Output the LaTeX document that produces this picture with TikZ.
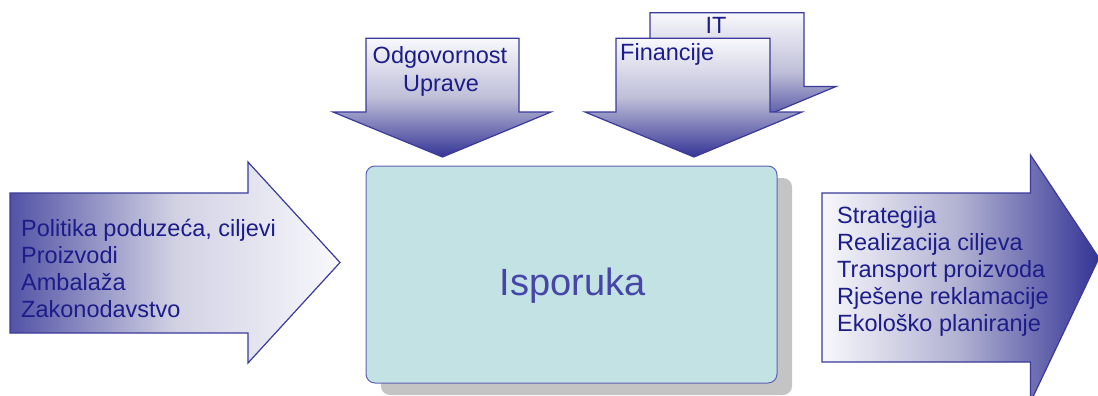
\documentclass[tikz,border=0pt]{standalone}
\usepackage{fontspec}
\setmainfont{Liberation Sans}
\definecolor{edgeblue}{RGB}{58,58,154}
\definecolor{deepblue}{RGB}{52,52,150}
\definecolor{midlav}{RGB}{190,190,216}
\definecolor{paleend}{RGB}{248,248,252}
\definecolor{txtnavy}{RGB}{28,28,138}
\definecolor{boxfill}{RGB}{194,226,228}
\definecolor{boxedge}{RGB}{96,96,180}
\definecolor{boxtxt}{RGB}{70,70,166}
\definecolor{shadowgray}{RGB}{196,196,196}
\tikzset{
  arrowline/.style={draw=edgeblue, line width=1.2pt, line join=miter},
  downshade/.style={arrowline, top color=paleend, bottom color=deepblue, middle color=midlav},
  leftshade/.style={arrowline, left color=deepblue!85!white, right color=paleend, middle color=midlav!70!white},
  rightshade/.style={arrowline, left color=paleend, right color=deepblue, middle color=midlav!90!deepblue},
  listtext/.style={inner sep=0pt, anchor=base west, text=txtnavy, font=\fontsize{23.5}{27}\selectfont},
  toptext/.style={inner sep=0pt, text=txtnavy, font=\fontsize{23.5}{27}\selectfont},
  bigtext/.style={inner sep=0pt, anchor=base, text=boxtxt, font=\fontsize{38}{44}\selectfont}
}
\begin{document}
\begin{tikzpicture}[x=1pt, y=-1pt]
\useasboundingbox (0,0) rectangle (1098,396);
\clip (0,0) rectangle (1098,396);

% incoming arrow on the left
\path[leftshade] (10,193) -- (248,193) -- (248,162) -- (340,262.5) -- (248,363)
  -- (248,333) -- (10,333) -- cycle;

% outgoing arrow on the right
\path[rightshade] (822,193) -- (1030.5,193) -- (1030.5,155) -- (1099,258) -- (1030.5,402)
  -- (1030.5,362) -- (822,362) -- cycle;

% downward arrow: Odgovornost Uprave
\path[downshade] (366,38.3) -- (519,38.3) -- (519,112) -- (551,112) -- (442.5,157)
  -- (333,112) -- (366,112) -- cycle;

% downward arrow behind: IT
\begin{scope}[shift={(34,-25.5)}]
\path[downshade] (616,38.3) -- (770,38.3) -- (770,112) -- (802,112) -- (694,157)
  -- (585,112) -- (616,112) -- cycle;
\end{scope}

% downward arrow in front: Financije
\path[downshade] (616,38.3) -- (770,38.3) -- (770,112) -- (802,112) -- (694,157)
  -- (585,112) -- (616,112) -- cycle;

% central process box with its shadow
\fill[shadowgray, rounded corners=9pt] (381,178) rectangle (792,395);
\draw[boxedge, fill=boxfill, line width=1pt, rounded corners=9pt] (366,166) rectangle (777,383);

% texts
\node[bigtext] (isporuka) at (572.5,295) {Isporuka};

\node[listtext] (in1) at (21,236) {Politika poduzeća, ciljevi};
\node[listtext] (in2) at (21,263) {Proizvodi};
\node[listtext] (in3) at (21,290) {Ambalaža};
\node[listtext] (in4) at (21,317) {Zakonodavstvo};

\node[listtext] (out1) at (837,223) {Strategija};
\node[listtext] (out2) at (837,250.2) {Realizacija ciljeva};
\node[listtext] (out3) at (837,277.4) {Transport proizvoda};
\node[listtext] (out4) at (837,304.6) {Rješene reklamacije};
\node[listtext] (out5) at (837,331.8) {Ekološko planiranje};

\node[toptext, anchor=base] (odg) at (440,63.5) {Odgovornost};
\node[toptext, anchor=base] (upr) at (441,91.5) {Uprave};
\node[toptext, anchor=base west] (fin) at (620,60.7) {Financije};
\node[toptext, anchor=base] (it) at (716,33.3) {IT};
\end{tikzpicture}
\end{document}
